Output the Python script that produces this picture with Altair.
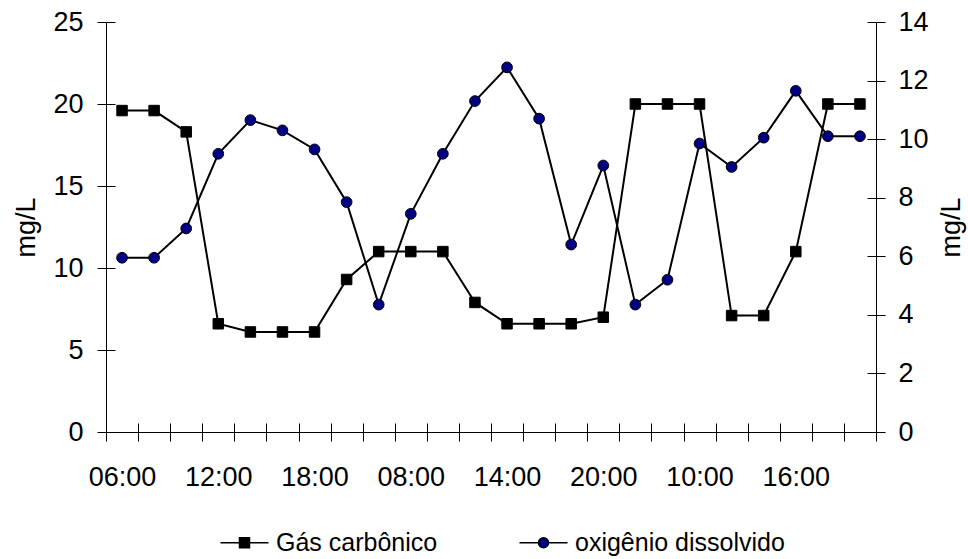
import altair as alt
import pandas as pd

# ---- data ----
times = ["06:00", "08:00", "10:00", "12:00", "14:00", "16:00", "18:00", "20:00",
         "06:00", "08:00", "10:00", "12:00", "14:00", "16:00", "18:00", "20:00",
         "06:00", "08:00", "10:00", "12:00", "14:00", "16:00", "18:00", "20:00"]
co2 = [19.6, 19.6, 18.3, 6.6, 6.1, 6.1, 6.1, 9.3, 11.0, 11.0, 11.0, 7.9,
       6.6, 6.6, 6.6, 7.0, 20.0, 20.0, 20.0, 7.1, 7.1, 11.0, 20.0, 20.0]
o2 = [5.95, 5.95, 6.95, 9.5, 10.65, 10.3, 9.65, 7.85, 4.35, 7.45, 9.5, 11.3,
      12.45, 10.7, 6.4, 9.1, 4.35, 5.2, 9.85, 9.05, 10.05, 11.65, 10.1, 10.1]
series_names = ["Gás carbônico", "oxigênio dissolvido"]
left_ticks = [0, 5, 10, 15, 20, 25]
right_ticks = [0, 2, 4, 6, 8, 10, 12, 14]

N = len(times)
df = pd.DataFrame({"idx": list(range(N)), "time": times, "co2": co2, "o2": o2})
long_df = pd.DataFrame({
    "idx": list(range(N)) * 2,
    "serie": [series_names[0]] * N + [series_names[1]] * N,
    "val": co2 + o2,
})

W, H = 770, 410
FONT = "Liberation Sans"
NAVY = "#000080"
TFS = 27

XDOM = [-0.5, N - 0.5]
tick_vals = [i - 0.5 for i in range(N + 1)]
lab_arr = "[" + ",".join(f"'{t}'" for t in times) + "]"
label_expr = (f"(datum.value + 0.5) % 3 == 0 && datum.value < {N - 1} "
              f"? {lab_arr}[datum.value + 0.5] : ''")

xscale = alt.Scale(domain=XDOM, nice=False, zero=False)
x_main = alt.X("idx:Q", scale=xscale, axis=alt.Axis(
    orient="bottom", values=tick_vals, labelExpr=label_expr, tickSize=9,
    labelOffset=W / N / 2, labelPadding=23, labelFlush=False, labelOverlap=False,
    labelBound=False, grid=False, title=None, domainColor="black", tickColor="black",
    labelFontSize=TFS, labelFont=FONT, labelColor="black"))
x_none = alt.X("idx:Q", scale=xscale, axis=None)
x_in = alt.X("idx:Q", scale=xscale, axis=alt.Axis(
    orient="bottom", values=tick_vals, tickSize=9, offset=-9, labels=False,
    domain=False, grid=False, title=None, tickColor="black"))

yl_scale = alt.Scale(domain=[0, 25], nice=False)
yr_scale = alt.Scale(domain=[0, 14], nice=False)

y_left = alt.Y("co2:Q", scale=yl_scale, axis=alt.Axis(
    orient="left", values=left_ticks, tickSize=9, labelPadding=14, grid=False,
    domainColor="black", tickColor="black", labelFontSize=TFS, labelFont=FONT,
    labelColor="black", title="mg/L", titleAngle=270, titleX=-80, titleY=H / 2,
    titleAlign="center", titleBaseline="middle", titleFontSize=TFS, titleFont=FONT,
    titleFontWeight="normal", titleColor="black"))
y_left_none = alt.Y("co2:Q", scale=yl_scale, axis=None)
y_left_in = alt.Y("co2:Q", scale=yl_scale, axis=alt.Axis(
    orient="left", values=left_ticks, tickSize=9, offset=-9, labels=False,
    domain=False, grid=False, title=None, tickColor="black"))

y_right = alt.Y("o2:Q", scale=yr_scale, axis=alt.Axis(
    orient="right", values=right_ticks, tickSize=9, labelPadding=13, grid=False,
    domainColor="black", tickColor="black", labelFontSize=TFS, labelFont=FONT,
    labelColor="black", title="mg/L", titleAngle=270, titleX=75, titleY=H / 2,
    titleAlign="center", titleBaseline="middle", titleFontSize=TFS, titleFont=FONT,
    titleFontWeight="normal", titleColor="black"))
y_right_none = alt.Y("o2:Q", scale=yr_scale, axis=None)
y_right_in = alt.Y("o2:Q", scale=yr_scale, axis=alt.Axis(
    orient="right", values=right_ticks, tickSize=9, offset=-9, labels=False,
    domain=False, grid=False, title=None, tickColor="black"))

base = alt.Chart(df)

co2_line = base.mark_line(color="black", strokeWidth=2).encode(x=x_main, y=y_left)
co2_pts = base.mark_point(shape="square", filled=True, fill="black", stroke="black",
                          strokeWidth=1, size=110, opacity=1).encode(x=x_none, y=y_left_none)
o2_line = base.mark_line(color="black", strokeWidth=2).encode(x=x_none, y=y_right)
o2_pts = base.mark_point(shape="circle", filled=True, fill=NAVY, stroke="black",
                         strokeWidth=1, size=115, opacity=1).encode(x=x_none, y=y_right_none)
ticks_a = base.mark_point(opacity=0).encode(x=x_in, y=y_left_in)
ticks_b = base.mark_point(opacity=0).encode(x=x_none, y=y_right_in)

sq_path = "M-4.8,0L4.8,0M-1,-1L1,-1L1,1L-1,1Z"
circ_path = "M-4.8,0L-1,0M1,0L4.8,0M-1,0A1,1,0,1,0,1,0A1,1,0,1,0,-1,0Z"

leg = alt.Legend(orient="none", legendX=126, legendY=508, direction="horizontal",
                 title=None, labelFontSize=25, labelFont=FONT, labelColor="black",
                 labelLimit=0, symbolSize=100, symbolStrokeColor="black",
                 symbolStrokeWidth=1.5, symbolOpacity=1, labelOffset=19,
                 columnPadding=78, padding=0)

legend_layer = alt.Chart(long_df).transform_filter("false").mark_point(
    filled=True, strokeWidth=1.5, size=100, opacity=1
).encode(
    x=x_none,
    y=alt.Y("val:Q", scale=yl_scale, axis=None),
    shape=alt.Shape("serie:N", scale=alt.Scale(domain=series_names,
                                               range=[sq_path, circ_path]), legend=leg),
    fill=alt.Fill("serie:N", scale=alt.Scale(domain=series_names,
                                             range=["black", NAVY]), legend=leg),
    stroke=alt.Stroke("serie:N", scale=alt.Scale(domain=series_names,
                                                 range=["black", "black"]), legend=leg),
)

chart = alt.layer(
    co2_line, co2_pts, o2_line, o2_pts, ticks_a, ticks_b, legend_layer
).resolve_scale(
    x="independent", y="independent"
).resolve_axis(
    x="independent", y="independent"
).properties(
    width=W, height=H,
    padding={"left": 106, "top": 22, "right": 968 - 106 - W, "bottom": 559 - 22 - H},
    autosize=alt.AutoSizeParams(type="none"),
    background="white",
).configure_view(stroke=None)

chart.save("out.html", embed_options={"renderer": "svg", "actions": False})
